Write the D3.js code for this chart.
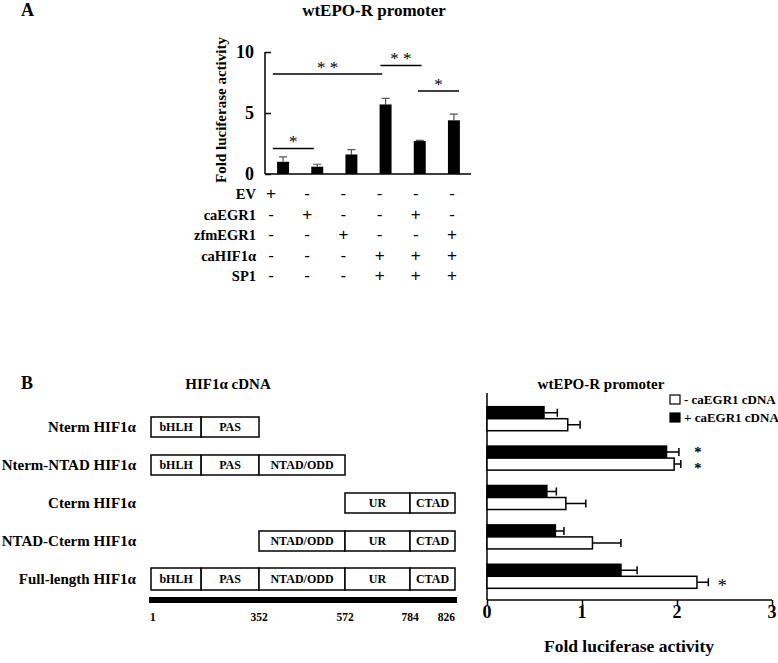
<!DOCTYPE html>
<html>
<head>
<meta charset="utf-8">
<script src="https://cdn.jsdelivr.net/npm/d3@7"></script>
<style>
  body { margin: 0; background: #fff; }
  text { font-family: "Liberation Serif", "Times New Roman", serif; font-weight: bold; fill: #000; }
</style>
</head>
<body>
<div id="chart"></div>
<script>
// ---- panel A data ----
var conditions = ['c1', 'c2', 'c3', 'c4', 'c5', 'c6'];
var foldA = [1.0, 0.6, 1.6, 5.7, 2.7, 4.4];
var errA = [0.4, 0.2, 0.4, 0.5, 0.05, 0.5];
var yTicksA = [0, 5, 10];
var tableRows = ['EV', 'caEGR1', 'zfmEGR1', 'caHIF1α', 'SP1'];
var tableSigns = [
    ['+', '-', '-', '-', '-', '-'],
    ['-', '+', '-', '-', '+', '-'],
    ['-', '-', '+', '-', '-', '+'],
    ['-', '-', '-', '+', '+', '+'],
    ['-', '-', '-', '+', '+', '+']
];
// brackets: span in bar-index units, height in fold units
var brackets = [
    { from: -0.3, to: 0.9, y: 2.1, label: '*' },
    { from: -0.3, to: 2.9, y: 8.2, label: '* *' },
    { from: 2.85, to: 4.05, y: 8.9, label: '* *' },
    { from: 3.95, to: 5.15, y: 6.8, label: '*' }
];

// ---- panel B data ----
var constructs = ['Nterm HIF1α', 'Nterm-NTAD HIF1α', 'Cterm HIF1α', 'NTAD-Cterm HIF1α', 'Full-length HIF1α'];
var constructDomains = [
    ['bHLH', 'PAS'],
    ['bHLH', 'PAS', 'NTAD/ODD'],
    ['UR', 'CTAD'],
    ['NTAD/ODD', 'UR', 'CTAD'],
    ['bHLH', 'PAS', 'NTAD/ODD', 'UR', 'CTAD']
];
var domainNames = ['bHLH', 'PAS', 'NTAD/ODD', 'UR', 'CTAD'];
var domainStart = [1, 164, 352, 572, 784];
var domainEnd = [164, 352, 572, 784, 826];
var aaTicks = [1, 352, 572, 784, 826];
var series = ['+ caEGR1 cDNA', '- caEGR1 cDNA'];
var foldWith = [0.6, 1.89, 0.63, 0.72, 1.41];
var errWith = [0.14, 0.13, 0.1, 0.09, 0.17];
var foldWithout = [0.85, 1.97, 0.83, 1.11, 2.21];
var errWithout = [0.13, 0.07, 0.21, 0.3, 0.12];
// number of significance stars stacked beside each construct
var starsB = [0, 2, 0, 0, 1];
var xTicksB = [0, 1, 2, 3];

const width = 778;
const height = 663;

var svg = d3.select('#chart').append('svg')
    .attr('width', width)
    .attr('height', height);

// ================= panel A =================
svg.append('text').text('A')
    .attr('x', 21).attr('y', 16)
    .style('font-size', '18px');

svg.append('text').text('wtEPO-R promoter')
    .attr('x', 374).attr('y', 16)
    .attr('text-anchor', 'middle')
    .style('font-size', '17px');

var xA = d3.scaleBand()
    .domain(conditions)
    .range([266, 471])
    .paddingInner(0.65)
    .paddingOuter(0.325);

var yA = d3.scaleLinear()
    .domain([0, 10])
    .range([174, 52]);

// index scale for bracket ends (bar centers)
var idxA = d3.scaleLinear()
    .domain([0, conditions.length - 1])
    .range([xA(conditions[0]) + xA.bandwidth() / 2, xA(conditions[conditions.length - 1]) + xA.bandwidth() / 2]);

var gA = svg.append('g');

// y axis with inward ticks
var yAxisA = d3.axisRight(yA).tickValues(yTicksA).tickSize(6).tickFormat('');
gA.append('g')
    .attr('transform', 'translate(265,0)')
    .call(yAxisA)
    .call(g => g.select('.domain').attr('d', `M0,${yA(10)}V${yA(0)}`).attr('stroke-width', 1.5))
    .call(g => g.selectAll('.tick line').attr('stroke-width', 1.5));

gA.selectAll('.ylabA')
    .data(yTicksA)
    .enter().append('text')
        .attr('class', 'ylabA')
        .attr('x', 254)
        .attr('y', d => yA(d) + 6)
        .attr('text-anchor', 'end')
        .style('font-size', '18px')
        .text(d => d);

gA.append('line')
    .attr('x1', 265).attr('x2', 471)
    .attr('y1', yA(0)).attr('y2', yA(0))
    .attr('stroke', '#000').attr('stroke-width', 1.5);

gA.append('text')
    .text('Fold luciferase activity')
    .attr('transform', `translate(226, ${(yA(10) + yA(0)) / 2 - 3}) rotate(-90)`)
    .attr('text-anchor', 'middle')
    .style('font-size', '15px');

// error bars
gA.selectAll('.errA')
    .data(conditions)
    .enter().append('path')
        .attr('class', 'errA')
        .attr('d', (d, i) => {
            var cx = xA(d) + xA.bandwidth() / 2;
            var top = yA(foldA[i] + errA[i]);
            return `M${cx},${yA(foldA[i])}V${top}M${cx - 4},${top}H${cx + 4}`;
        })
        .attr('fill', 'none')
        .attr('stroke', '#555')
        .attr('stroke-width', 1.2);

gA.selectAll('.barA')
    .data(conditions)
    .enter().append('rect')
        .attr('class', 'barA')
        .attr('x', d => xA(d))
        .attr('width', xA.bandwidth())
        .attr('y', (d, i) => yA(foldA[i]))
        .attr('height', (d, i) => yA(0) - yA(foldA[i]))
        .attr('fill', '#000');

// significance brackets
gA.selectAll('.brA')
    .data(brackets)
    .enter().append('line')
        .attr('class', 'brA')
        .attr('x1', d => idxA(d.from))
        .attr('x2', d => idxA(d.to))
        .attr('y1', d => yA(d.y))
        .attr('y2', d => yA(d.y))
        .attr('stroke', '#000')
        .attr('stroke-width', 1.5);

gA.selectAll('.brLab')
    .data(brackets)
    .enter().append('text')
        .attr('class', 'brLab')
        .attr('x', d => (idxA(d.from) + idxA(d.to)) / 2)
        .attr('y', d => yA(d.y) - 1)
        .attr('text-anchor', 'middle')
        .style('font-size', '17px')
        .style('font-weight', 'normal')
        .text(d => d.label);

// condition table
var rowA = d3.scalePoint().domain(tableRows).range([199, 281]);
var colA = d3.scalePoint().domain(conditions).range([271, 452]);

gA.selectAll('.rowLab')
    .data(tableRows)
    .enter().append('text')
        .attr('class', 'rowLab')
        .attr('x', 256)
        .attr('y', d => rowA(d))
        .attr('text-anchor', 'end')
        .style('font-size', '14.5px')
        .text(d => d);

tableSigns.forEach(function (signs, r) {
    gA.selectAll('.sign' + r)
        .data(signs)
        .enter().append('text')
            .attr('class', 'sign' + r)
            .attr('x', (d, i) => colA(conditions[i]))
            .attr('y', rowA(tableRows[r]))
            .attr('text-anchor', 'middle')
            .style('font-family', '"Liberation Sans", Arial, sans-serif')
            .style('font-weight', 'normal')
            .style('font-size', '17px')
            .text(d => d);
});

// ================= panel B: diagram =================
svg.append('text').text('B')
    .attr('x', 21).attr('y', 389)
    .style('font-size', '18px');

svg.append('text').text('HIF1α cDNA')
    .attr('x', 228).attr('y', 389)
    .attr('text-anchor', 'middle')
    .style('font-size', '15px');

svg.append('text').text('wtEPO-R promoter')
    .attr('x', 601).attr('y', 389)
    .attr('text-anchor', 'middle')
    .style('font-size', '15px');

// schematic (piecewise) amino-acid scale
var aa = d3.scaleLinear()
    .domain(aaTicks)
    .range([151, 259, 345, 410, 455]);

var rowB = d3.scalePoint().domain(constructs).range([427, 579]);
var boxH = 20;

var gD = svg.append('g');

gD.selectAll('.conLab')
    .data(constructs)
    .enter().append('text')
        .attr('class', 'conLab')
        .attr('x', 136)
        .attr('y', d => rowB(d) + 5)
        .attr('text-anchor', 'end')
        .style('font-size', '15px')
        .text(d => d);

constructs.forEach(function (c, r) {
    var h = r === constructs.length - 1 ? 22 : boxH;
    var doms = constructDomains[r].map(n => domainNames.indexOf(n));
    var g = gD.append('g');
    g.selectAll('rect')
        .data(doms)
        .enter().append('rect')
            .attr('x', d => aa(domainStart[d]))
            .attr('width', d => aa(domainEnd[d]) - aa(domainStart[d]))
            .attr('y', rowB(c) - h / 2)
            .attr('height', h)
            .attr('fill', '#fff')
            .attr('stroke', '#000')
            .attr('stroke-width', 1.5);
    g.selectAll('text')
        .data(doms)
        .enter().append('text')
            .attr('x', d => (aa(domainStart[d]) + aa(domainEnd[d])) / 2)
            .attr('y', rowB(c) + 4)
            .attr('text-anchor', 'middle')
            .style('font-size', '12px')
            .text(d => domainNames[d]);
});

gD.append('rect')
    .attr('x', aa(1) - 2)
    .attr('width', aa(826) - aa(1) + 4)
    .attr('y', 597)
    .attr('height', 6)
    .attr('fill', '#000');

gD.selectAll('.aaLab')
    .data(aaTicks)
    .enter().append('text')
        .attr('class', 'aaLab')
        .attr('x', (d, i) => i === 0 ? aa(d) - 1 : aa(d))
        .attr('y', 621)
        .attr('text-anchor', (d, i) => i === 0 ? 'start' : (i === aaTicks.length - 1 ? 'end' : 'middle'))
        .style('font-size', '11.5px')
        .text(d => d);

// ================= panel B: bar chart =================
var xB = d3.scaleLinear().domain([0, 3]).range([487, 772]);
var yB = d3.scaleBand()
    .domain(constructs)
    .range([399, 596])
    .paddingInner(0.39)
    .paddingOuter(0.195);
var ySub = d3.scaleBand().domain(series).range([0, yB.bandwidth()]);

var gB = svg.append('g');

gB.append('line')
    .attr('x1', xB(0)).attr('x2', xB(0))
    .attr('y1', 393).attr('y2', 600)
    .attr('stroke', '#000').attr('stroke-width', 1.5);

gB.append('g')
    .attr('transform', 'translate(0,600)')
    .call(d3.axisBottom(xB).tickValues(xTicksB).tickSize(5).tickFormat(''))
    .call(g => g.select('.domain').attr('d', `M${xB(0)},0H${xB(3)}`).attr('stroke-width', 1.5))
    .call(g => g.selectAll('.tick line').attr('stroke-width', 1.5));

gB.selectAll('.xlabB')
    .data(xTicksB)
    .enter().append('text')
        .attr('class', 'xlabB')
        .attr('x', d => xB(d))
        .attr('y', 618)
        .attr('text-anchor', 'middle')
        .style('font-size', '18px')
        .text(d => d);

gB.append('text')
    .text('Fold luciferase activity')
    .attr('x', 629).attr('y', 652)
    .attr('text-anchor', 'middle')
    .style('font-size', '17.5px');

var barSets = [
    { key: series[0], vals: foldWith, errs: errWith, fill: '#000' },
    { key: series[1], vals: foldWithout, errs: errWithout, fill: '#fff' }
];

barSets.forEach(function (s) {
    var g = gB.append('g');
    // error bars
    g.selectAll('path')
        .data(constructs)
        .enter().append('path')
            .attr('d', (c, i) => {
                var cy = yB(c) + ySub(s.key) + ySub.bandwidth() / 2;
                var xe = xB(s.vals[i] + s.errs[i]);
                return `M${xB(s.vals[i])},${cy}H${xe}M${xe},${cy - 4}V${cy + 4}`;
            })
            .attr('fill', 'none')
            .attr('stroke', '#000')
            .attr('stroke-width', 1.5);
    g.selectAll('rect')
        .data(constructs)
        .enter().append('rect')
            .attr('x', xB(0))
            .attr('y', c => yB(c) + ySub(s.key))
            .attr('width', (c, i) => xB(s.vals[i]) - xB(0))
            .attr('height', ySub.bandwidth())
            .attr('fill', s.fill)
            .attr('stroke', '#000')
            .attr('stroke-width', 1.5);
});

// significance stars
constructs.forEach(function (c, i) {
    var n = starsB[i];
    if (n === 0) return;
    var xe = d3.max(barSets, s => xB(s.vals[i] + s.errs[i]));
    if (n === 2) {
        // one star beside each bar, spread a little so they do not collide
        var mid = yB(c) + yB.bandwidth() / 2;
        gB.selectAll('.star2')
            .data([-8, 8])
            .enter().append('text')
                .attr('class', 'star2')
                .attr('x', xe + 17)
                .attr('y', d => mid + d + 7)
                .attr('text-anchor', 'middle')
                .style('font-size', '14.5px')
                .text('*');
    } else {
        var s = barSets[1];
        gB.append('text')
            .attr('x', xB(s.vals[i] + s.errs[i]) + 14)
            .attr('y', yB(c) + ySub(s.key) + ySub.bandwidth() / 2 + 10)
            .attr('text-anchor', 'middle')
            .style('font-size', '18px')
            .style('font-weight', 'normal')
            .text('*');
    }
});

// legend
var legend = gB.selectAll('.leg')
    .data([series[1], series[0]])
    .enter().append('g')
        .attr('class', 'leg')
        .attr('transform', (d, i) => `translate(670, ${395 + i * 18})`);

legend.append('rect')
    .attr('width', 10).attr('height', 9)
    .attr('fill', d => d === series[0] ? '#000' : '#fff')
    .attr('stroke', '#000')
    .attr('stroke-width', 1.2);

legend.append('text')
    .attr('x', 14).attr('y', 8.5)
    .style('font-size', '13px')
    .text(d => d);
</script>
</body>
</html>
